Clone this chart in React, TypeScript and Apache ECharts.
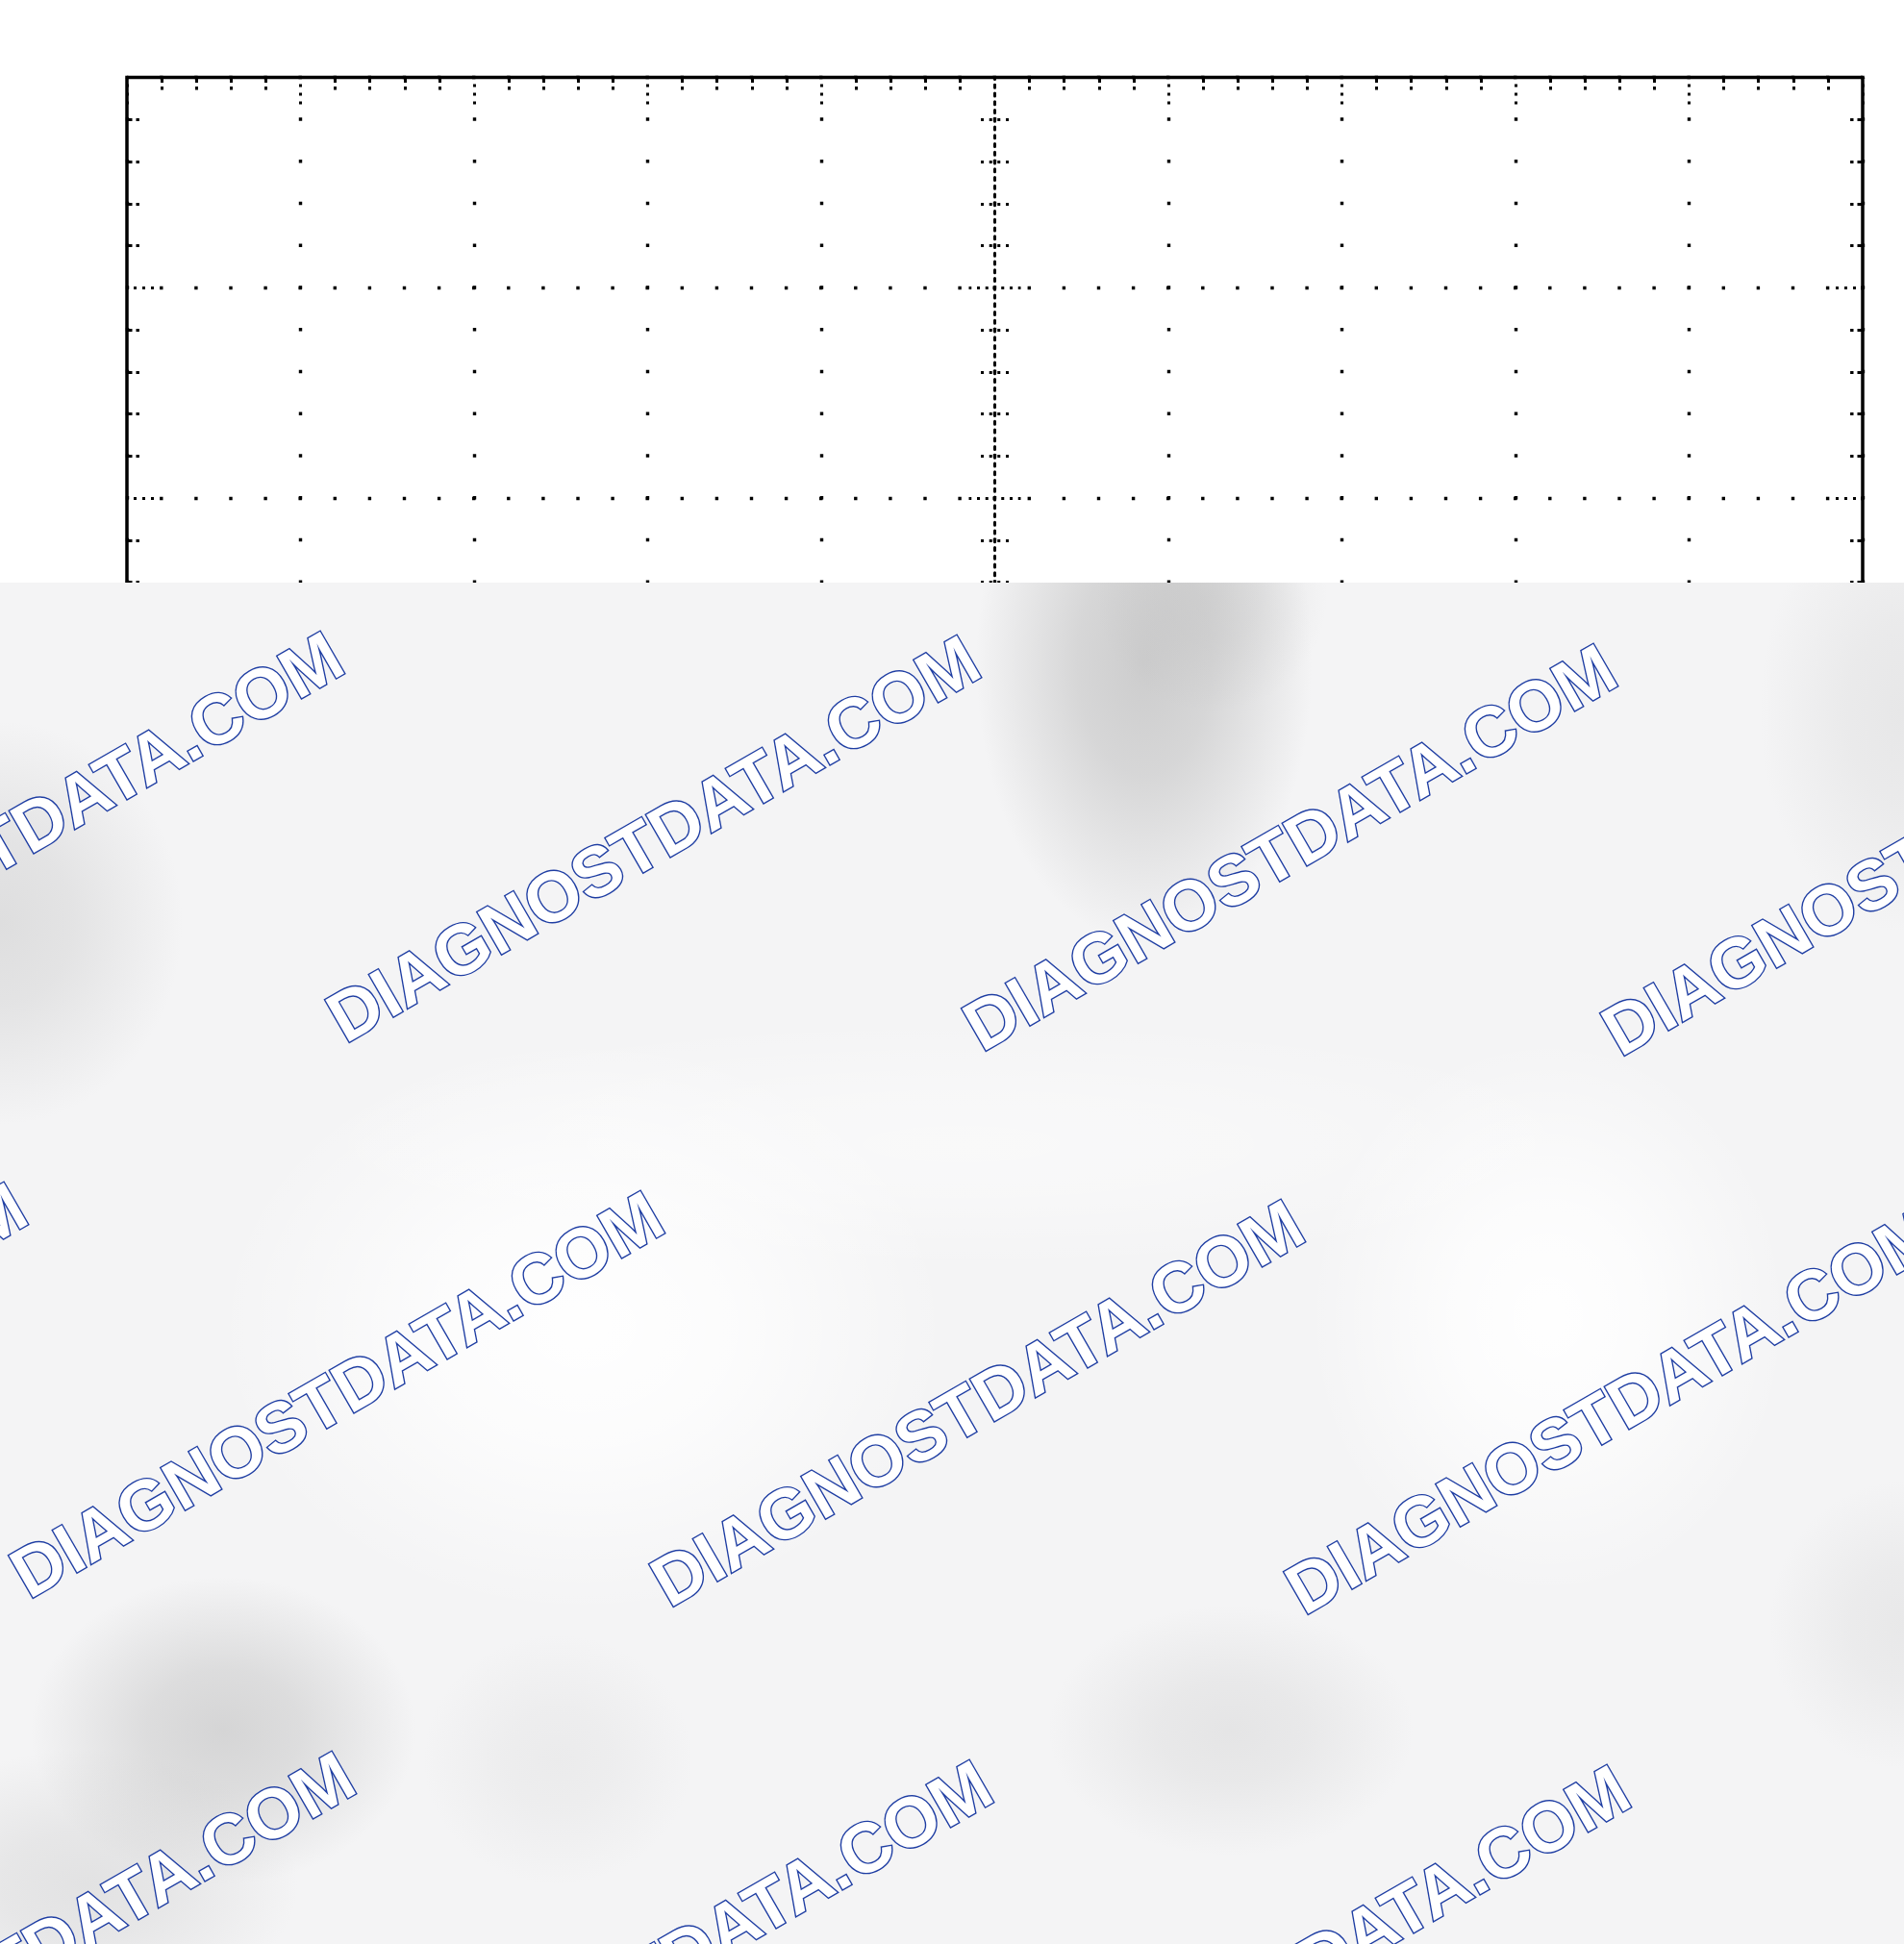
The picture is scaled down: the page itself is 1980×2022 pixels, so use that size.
import React, { useEffect, useRef } from 'react';
import * as echarts from 'echarts';

// ---- graticule data (oscilloscope screen: 10 x 8 divisions, 5 minor per division)
const xDivisionTicks = [0, 1, 2, 3, 4, 5, 6, 7, 8, 9, 10];
const yDivisionTicks = [-4, -3, -2, -1, 0, 1, 2, 3, 4];
const centerXTicks = [-5, -4, -3, -2, -1, 0, 1, 2, 3, 4, 5];
const minorPerDivision = 5;

// ---- watermark overlay (decoration)
const watermarkText = 'DIAGNOSTDATA.COM';
const watermarkCenters: [number, number][] = [
  [17, 868], [679, 872], [1341, 881], [2005, 886],
  [-312, 1441], [350, 1450], [1016, 1459], [1676, 1467],
  [29, 2033], [692, 2042], [1355, 2047],
];
// cx, cy, rx, ry, rgb, alpha
const overlayBlobs: [number, number, number, number, string, number][] = [
  [606, 1380, 380, 300, '255,255,255', 0.95],
  [1610, 1370, 250, 290, '255,255,255', 0.95],
  [1000, 1190, 700, 130, '255,255,255', 0.45],
  [1190, 690, 175, 290, '165,165,165', 0.5],
  [1260, 620, 120, 120, '175,175,175', 0.25],
  [0, 960, 190, 210, '175,175,175', 0.32],
  [1980, 740, 150, 230, '185,185,185', 0.22],
  [232, 1800, 200, 160, '170,170,170', 0.42],
  [90, 1960, 220, 140, '180,180,180', 0.28],
  [580, 1830, 140, 130, '185,185,185', 0.15],
  [1280, 1800, 190, 130, '175,175,175', 0.22],
  [1980, 1690, 140, 150, '185,185,185', 0.2],
];

const PAGE_W = 1980;
const PAGE_H = 2022;
const GRID = { left: 132, top: 80.5, width: 1805, height: 1750 };
const OVERLAY_TOP = 606;

export default function App() {
  const ref = useRef<HTMLDivElement>(null);

  useEffect(() => {
    if (!ref.current) return;
    const chart = echarts.init(ref.current, undefined, { renderer: 'svg' });

    const xMin = xDivisionTicks[0];
    const xMax = xDivisionTicks[xDivisionTicks.length - 1];
    const yMin = yDivisionTicks[0];
    const yMax = yDivisionTicks[yDivisionTicks.length - 1];
    const cxMin = centerXTicks[0];
    const cxMax = centerXTicks[centerXTicks.length - 1];
    const minorX = GRID.width / (xMax - xMin) / minorPerDivision; // ~36.1
    const minorY = GRID.height / (yMax - yMin) / minorPerDivision; // 43.75
    const fine = minorY / 5; // 8.75
    const dot = 3.4;
    const black = '#000000';

    const noLabel = { show: false };

    const centerMajorTick = {
      show: true,
      length: 27,
      lineStyle: { color: black, width: 3, type: [3, fine - 3], dashOffset: 1.5 },
    };
    const centerMinorTick = {
      show: true,
      splitNumber: minorPerDivision,
      length: 15,
      lineStyle: { color: black, width: 3, type: [3, fine - 3], dashOffset: fine - 2.9 },
    };
    const centerLine = (onZeroAxisIndex?: number) => ({
      show: true,
      onZero: true,
      ...(onZeroAxisIndex != null ? { onZeroAxisIndex } : {}),
      lineStyle: { color: black, width: 3, type: [3, fine - 3], dashOffset: 1.5 },
    });

    const edgeMajorTick = {
      show: true,
      inside: true,
      length: 28,
      lineStyle: { color: black, width: 3, type: [3, 6], dashOffset: 1.9 },
    };
    const edgeMinorTick = {
      show: true,
      splitNumber: minorPerDivision,
      length: 13,
      lineStyle: { color: black, width: 3, type: [5.5, 4, 3.4, 200] },
    };

    const gridRect = {
      left: GRID.left,
      top: GRID.top,
      width: GRID.width,
      height: GRID.height,
      outerBoundsMode: 'none',
      containLabel: false,
    };

    const graphicEls: any[] = [];
    graphicEls.push({
      type: 'rect',
      z: 100,
      silent: true,
      shape: { x: 0, y: OVERLAY_TOP, width: PAGE_W, height: PAGE_H - OVERLAY_TOP },
      style: { fill: '#f4f4f5' },
    });
    overlayBlobs.forEach(([cx, cy, rx, ry, rgb, a]) => {
      const sx = rx / ry;
      const lx0 = Math.max(-ry, (0 - cx) / sx);
      const lx1 = Math.min(ry, (PAGE_W - cx) / sx);
      const ly0 = Math.max(-ry, OVERLAY_TOP - cy);
      const ly1 = Math.min(ry, PAGE_H - cy);
      if (lx1 <= lx0 || ly1 <= ly0) return;
      graphicEls.push({
        type: 'rect',
        z: 101,
        silent: true,
        x: cx,
        y: cy,
        scaleX: sx,
        scaleY: 1,
        shape: { x: lx0, y: ly0, width: lx1 - lx0, height: ly1 - ly0 },
        style: {
          fill: new echarts.graphic.RadialGradient(
            0,
            0,
            ry,
            [
              { offset: 0, color: `rgba(${rgb},${a})` },
              { offset: 0.4, color: `rgba(${rgb},${a * 0.75})` },
              { offset: 1, color: `rgba(${rgb},0)` },
            ],
            true
          ),
        },
      });
    });
    watermarkCenters.forEach(([x, y]) => {
      graphicEls.push({
        type: 'text',
        z: 110,
        silent: true,
        x,
        y,
        rotation: Math.PI / 6,
        style: {
          text: watermarkText,
          fontSize: 73,
          fontWeight: 'bold',
          fontFamily: '"Liberation Sans", Arial, sans-serif',
          fill: '#ffffff',
          stroke: '#1f3ea3',
          lineWidth: 2.8,
          align: 'center',
          verticalAlign: 'middle',
          textAlign: 'center',
          textVerticalAlign: 'middle',
        },
      });
    });

    const option: any = {
      animation: false,
      backgroundColor: '#ffffff',
      grid: [
        { ...gridRect, show: false },
        { ...gridRect, show: true, borderColor: black, borderWidth: 3.5, backgroundColor: 'transparent' },
      ],
      xAxis: [
        {
          type: 'value', gridIndex: 0, position: 'bottom', min: cxMin, max: cxMax, interval: 1,
          axisLine: centerLine(), axisTick: centerMajorTick, minorTick: centerMinorTick,
          axisLabel: noLabel, splitLine: { show: false },
        },
        {
          type: 'value', gridIndex: 0, position: 'top', min: cxMin, max: cxMax, interval: 1,
          axisLine: { ...centerLine(0), show: false }, axisTick: centerMajorTick, minorTick: centerMinorTick,
          axisLabel: noLabel, splitLine: { show: false },
        },
        {
          type: 'value', gridIndex: 1, position: 'bottom', min: xMin, max: xMax, interval: 1,
          axisLine: { show: false, onZero: false }, axisTick: edgeMajorTick, minorTick: edgeMinorTick,
          axisLabel: noLabel,
          splitLine: {
            show: true,
            lineStyle: { color: black, width: dot, type: [dot, minorY - dot], dashOffset: dot / 2 },
          },
        },
        {
          type: 'value', gridIndex: 1, position: 'top', min: xMin, max: xMax, interval: 1,
          axisLine: { show: false, onZero: false }, axisTick: edgeMajorTick, minorTick: edgeMinorTick,
          axisLabel: noLabel, splitLine: { show: false },
        },
      ],
      yAxis: [
        {
          type: 'value', gridIndex: 0, position: 'left', min: yMin, max: yMax, interval: 1,
          axisLine: centerLine(), axisTick: centerMajorTick, minorTick: centerMinorTick,
          axisLabel: noLabel, splitLine: { show: false },
        },
        {
          type: 'value', gridIndex: 0, position: 'right', min: yMin, max: yMax, interval: 1,
          axisLine: { ...centerLine(0), show: false }, axisTick: centerMajorTick, minorTick: centerMinorTick,
          axisLabel: noLabel, splitLine: { show: false },
        },
        {
          type: 'value', gridIndex: 1, position: 'left', min: yMin, max: yMax, interval: 1,
          axisLine: { show: false, onZero: false }, axisTick: edgeMajorTick, minorTick: edgeMinorTick,
          axisLabel: noLabel,
          splitLine: {
            show: true,
            lineStyle: { color: black, width: dot, type: [dot, minorX - dot], dashOffset: dot / 2 },
          },
        },
        {
          type: 'value', gridIndex: 1, position: 'right', min: yMin, max: yMax, interval: 1,
          axisLine: { show: false, onZero: false }, axisTick: edgeMajorTick, minorTick: edgeMinorTick,
          axisLabel: noLabel, splitLine: { show: false },
        },
      ],
      series: [
        { type: 'scatter', xAxisIndex: 0, yAxisIndex: 0, data: [], silent: true },
        { type: 'scatter', xAxisIndex: 2, yAxisIndex: 2, data: [], silent: true },
      ],
      graphic: { elements: graphicEls },
    };

    chart.setOption(option);
    return () => {
      chart.dispose();
    };
  }, []);

  return (
    <div
      ref={ref}
      style={{ position: 'fixed', left: 0, top: 0, width: PAGE_W, height: PAGE_H, background: '#ffffff' }}
    />
  );
}
